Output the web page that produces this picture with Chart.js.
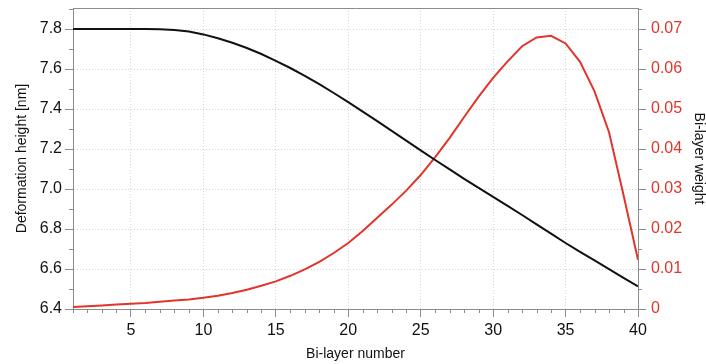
<!DOCTYPE html>
<html>
<head>
<meta charset="utf-8">
<script src="https://cdn.jsdelivr.net/npm/chart.js@4/dist/chart.umd.min.js"></script>
<style>
  html, body { margin: 0; padding: 0; background: #fff; }
  #wrap { width: 706px; height: 364px; }
</style>
</head>
<body>
<div id="wrap"><canvas id="chart"></canvas></div>
<script>
// bi-layer index (x axis)
const layerNumbers = [1, 2, 3, 4, 5, 6, 7, 8, 9, 10, 11, 12, 13, 14, 15, 16, 17, 18, 19, 20,
    21, 22, 23, 24, 25, 26, 27, 28, 29, 30, 31, 32, 33, 34, 35, 36, 37, 38, 39, 40];

// deformation height [nm], left axis
const deformationHeight = [7.800, 7.800, 7.800, 7.800, 7.800, 7.800, 7.799, 7.795, 7.787, 7.773,
    7.754, 7.731, 7.705, 7.675, 7.641, 7.605, 7.566, 7.524, 7.480, 7.434,
    7.387, 7.339, 7.291, 7.242, 7.193, 7.145, 7.098, 7.051, 7.006, 6.961,
    6.916, 6.870, 6.823, 6.777, 6.730, 6.686, 6.643, 6.599, 6.556, 6.513];

// bi-layer weight, right axis
const layerWeight = [0.0005, 0.0007, 0.0009, 0.0011, 0.0013, 0.0015, 0.0018, 0.0021, 0.0024, 0.0028,
    0.0033, 0.0040, 0.0048, 0.0058, 0.0069, 0.0083, 0.0099, 0.0118, 0.0140, 0.0165,
    0.0195, 0.0228, 0.0261, 0.0296, 0.0335, 0.0380, 0.0428, 0.0480, 0.0531, 0.0578,
    0.0619, 0.0657, 0.0679, 0.0683, 0.0664, 0.0618, 0.0544, 0.0442, 0.0285, 0.0123];

const xTicks = [5, 10, 15, 20, 25, 30, 35, 40];
const heightTicks = [6.4, 6.6, 6.8, 7.0, 7.2, 7.4, 7.6, 7.8];
const weightTicks = [0, 0.01, 0.02, 0.03, 0.04, 0.05, 0.06, 0.07];

const AXIS_GREY = "#8c8c8c";
const GRID = "rgba(0,0,0,0.16)";
const RED = "#e3342c";
const tickFont = { family: "'Liberation Sans', Arial, sans-serif", size: 16 };
const titleFont = { family: "'Liberation Sans', Arial, sans-serif", size: 14, lineHeight: 1 };

// keep the plot box where the reference has it: no label overhang padding
function noOverhang(scale) {
    scale.paddingTop = 0;
    scale.paddingBottom = 0;
    scale.paddingLeft = 0;
    scale.paddingRight = 0;
}

// minor ticks + top frame line
const minorTicks = {
    id: "minorTicks",
    afterDraw(chart) {
        const { ctx, chartArea, scales } = chart;
        ctx.save();
        ctx.strokeStyle = AXIS_GREY;
        ctx.lineWidth = 1;
        ctx.beginPath();
        for (let v = 1; v <= 40; v++) {
            if (v % 5 === 0) continue;
            const px = Math.round(scales.x.getPixelForValue(v)) + 0.5;
            ctx.moveTo(px, chartArea.bottom);
            ctx.lineTo(px, chartArea.bottom + 4);
        }
        for (let v = 6.5; v < 7.95; v += 0.2) {
            const py = Math.round(scales.y.getPixelForValue(v)) + 0.5;
            ctx.moveTo(chartArea.left, py);
            ctx.lineTo(chartArea.left - 4, py);
        }
        for (let v = 0.005; v < 0.076; v += 0.01) {
            const py = Math.round(scales.y2.getPixelForValue(v)) + 0.5;
            ctx.moveTo(chartArea.right, py);
            ctx.lineTo(chartArea.right + 4, py);
        }
        ctx.stroke();
        ctx.beginPath();
        ctx.moveTo(chartArea.left, chartArea.top + 0.5);
        ctx.lineTo(chartArea.right, chartArea.top + 0.5);
        ctx.stroke();
        ctx.restore();
    }
};

new Chart(document.getElementById("chart").getContext("2d"), {
    type: "line",
    data: {
        datasets: [
            {
                label: "Deformation height",
                data: layerNumbers.map((n, i) => ({ x: n, y: deformationHeight[i] })),
                yAxisID: "y",
                borderColor: "#111111",
                borderWidth: 2,
                pointRadius: 0,
                tension: 0
            },
            {
                label: "Bi-layer weight",
                data: layerNumbers.map((n, i) => ({ x: n, y: layerWeight[i] })),
                yAxisID: "y2",
                borderColor: RED,
                borderWidth: 2,
                pointRadius: 0,
                tension: 0
            }
        ]
    },
    options: {
        responsive: true,
        maintainAspectRatio: false,
        animation: false,
        layout: { padding: { top: 8 } },
        plugins: { legend: { display: false }, tooltip: { enabled: false } },
        scales: {
            x: {
                type: "linear",
                min: 1,
                max: 40,
                afterBuildTicks: (scale) => { scale.ticks = xTicks.map((v) => ({ value: v })); },
                afterFit: (scale) => { scale.height = 55; noOverhang(scale); },
                ticks: { color: "#111", font: tickFont, padding: 4, maxRotation: 0, callback: (v) => String(v) },
                grid: { color: GRID, tickColor: AXIS_GREY, tickLength: 8, lineWidth: 1 },
                border: { color: AXIS_GREY, width: 1, dash: [1, 2] },
                title: { display: true, text: "Bi-layer number", color: "#111", font: titleFont, padding: { top: 0, bottom: 3 } }
            },
            y: {
                position: "left",
                min: 6.4,
                max: 7.905,
                afterBuildTicks: (scale) => { scale.ticks = heightTicks.map((v) => ({ value: v })); },
                afterFit: (scale) => { scale.width = 73; noOverhang(scale); },
                ticks: { color: "#111", font: tickFont, padding: 3, callback: (v) => v.toFixed(1) },
                grid: { color: GRID, tickColor: AXIS_GREY, tickLength: 8, lineWidth: 1 },
                border: { color: AXIS_GREY, width: 1, dash: [1, 2] },
                title: { display: true, text: "Deformation height [nm]", color: "#111", font: titleFont, padding: { top: 15, bottom: 0 } }
            },
            y2: {
                position: "right",
                min: 0,
                max: 0.07526,
                afterBuildTicks: (scale) => { scale.ticks = weightTicks.map((v) => ({ value: v })); },
                afterFit: (scale) => { scale.width = 68; noOverhang(scale); },
                ticks: { color: RED, font: tickFont, padding: 5, callback: (v) => String(Math.round(v * 100) / 100) },
                grid: { drawOnChartArea: false, tickColor: AXIS_GREY, tickLength: 8 },
                border: { color: AXIS_GREY, width: 1 },
                title: { display: true, text: "Bi-layer weight", color: "#111", font: titleFont, padding: { top: 0, bottom: 0 } }
            }
        }
    },
    plugins: [minorTicks]
});
</script>
</body>
</html>
